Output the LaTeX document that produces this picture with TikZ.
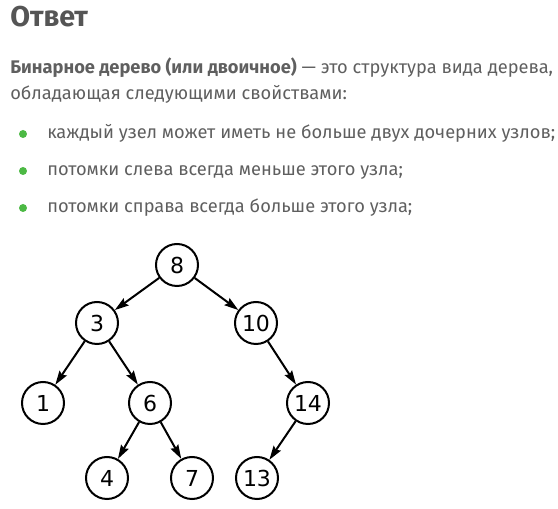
\documentclass[tikz,border=0pt]{standalone}
\usepackage{fontspec}
\setmainfont{Fira Sans}
\newfontfamily\treefont{DejaVu Sans}
\usepackage{xcolor}
\usetikzlibrary{arrows.meta}
\definecolor{ansGray}{RGB}{85, 85, 85}
\definecolor{ansText}{RGB}{95, 95, 95}
\definecolor{ansGreen}{RGB}{76, 185, 68}

\begin{document}
\begin{tikzpicture}[x=0.75pt, y=-0.75pt,
    txt/.style={anchor=base west, inner sep=0pt, text=ansText, font=\fontsize{13.7}{16}\selectfont},
    tnode/.style={circle, draw, line width=1.5pt, minimum size=31.5pt, inner sep=0pt, font=\treefont\fontsize{16.5}{18}\selectfont},
    edge/.style={line width=1.5pt, -{Stealth[length=10.5pt, width=6.5pt, inset=1.5pt]}}]
  \useasboundingbox (0,0) rectangle (558,509);

  % Heading
  \node[anchor=base west, inner sep=0pt, text=ansGray, font=\bfseries\fontsize{21.5}{24}\selectfont] (title) at (10,27) {Ответ};

  % Definition
  \node[txt] (def1) at (10,74) {\textbf{Бинарное дерево (или двоичное)} — это структура вида дерева,};
  \node[txt] (def2) at (10,100) {обладающая следующими свойствами:};

  % Properties
  \foreach \y/\t in {139/{каждый узел может иметь не больше двух дочерних узлов;},
                     176/{потомки слева всегда меньше этого узла;},
                     213/{потомки справа всегда больше этого узла;}} {
      \fill[ansGreen] (23,\y-5) circle (4);
      \node[txt] at (47,\y) {\t};
  }

  % Tree
  \node[tnode] (n8)  at (177,265) {8};
  \node[tnode] (n3)  at (97,323)  {3};
  \node[tnode] (n10) at (256,323) {10};
  \node[tnode] (n1)  at (43,403)  {1};
  \node[tnode] (n6)  at (150,403) {6};
  \node[tnode] (n14) at (308,403) {14};
  \node[tnode] (n4)  at (107,478) {4};
  \node[tnode] (n7)  at (192,478) {7};
  \node[tnode] (n13) at (257,478) {13};

  \foreach \a/\b in {n8/n3, n8/n10, n3/n1, n3/n6, n10/n14, n6/n4, n6/n7, n14/n13}
      \draw[edge] (\a) -- (\b);
\end{tikzpicture}
\end{document}
